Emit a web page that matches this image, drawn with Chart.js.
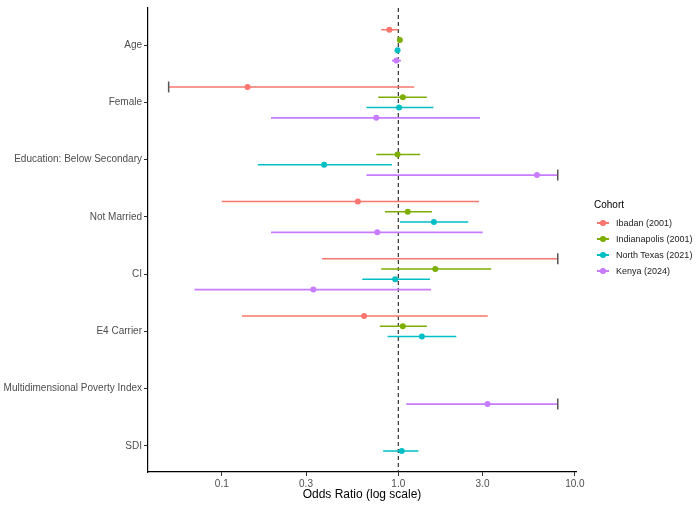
<!DOCTYPE html>
<html>
<head>
<meta charset="utf-8">
<script src="https://cdn.jsdelivr.net/npm/chart.js@4/dist/chart.umd.min.js"></script>
<style>
    html, body { margin: 0; padding: 0; background: #fff; }
    #wrap { position: relative; width: 700px; height: 508px; }
    #legend { position: absolute; left: 0; top: 0; font-family: 'Liberation Sans', Arial, sans-serif; }
    #legend .ttl { position: absolute; left: 594px; top: 199px; font-size: 10px; color: #000; white-space: nowrap; }
    #legend .row { position: absolute; left: 597px; height: 16px; white-space: nowrap; }
    #legend .bar { position: absolute; left: 0; top: 7.2px; width: 12px; height: 1.6px; }
    #legend .dot { position: absolute; left: 3.2px; top: 5.2px; width: 5.6px; height: 5.6px; border-radius: 50%; }
    #legend .lbl { position: absolute; left: 19px; top: 2.5px; font-size: 9px; color: #1a1a1a; }
</style>
</head>
<body>
<div id="wrap">
    <canvas id="forestChart" width="700" height="508"></canvas>
    <div id="legend"></div>
</div>
<script>
// Forest plot data (odds ratios, 95% CI)

const categories = ['Age', 'Female', 'Education: Below Secondary', 'Not Married', 'CI', 'E4 Carrier', 'Multidimensional Poverty Index', 'SDI'];
const cohorts = ['Ibadan (2001)', 'Indianapolis (2001)', 'North Texas (2021)', 'Kenya (2024)'];
const cohortColors = ['#F8766D', '#7CAE00', '#00BFC4', '#C77CFF'];

const ibadanOR = [0.89, 0.14, null, 0.59, null, 0.64, null, null];
const ibadanLo = [0.80, 0.05, null, 0.10, 0.37, 0.13, null, null];
const ibadanHi = [1.00, 1.23, null, 2.86, 8.0, 3.21, null, null];

const indyOR = [1.02, 1.06, 0.99, 1.13, 1.62, 1.06, null, null];
const indyLo = [1.00, 0.77, 0.75, 0.84, 0.80, 0.785, null, null];
const indyHi = [1.04, 1.45, 1.33, 1.55, 3.36, 1.45, null, null];

const texasOR = [0.99, 1.01, 0.38, 1.59, 0.96, 1.36, null, 1.045];
const texasLo = [0.975, 0.66, 0.16, 1.02, 0.625, 0.87, null, 0.82];
const texasHi = [1.005, 1.58, 0.92, 2.49, 1.51, 2.13, null, 1.30];

const kenyaOR = [0.975, 0.75, 6.1, 0.76, 0.33, null, 3.2, null];
const kenyaLo = [0.92, 0.19, 0.66, 0.19, 0.07, null, 1.11, null];
const kenyaHi = [1.035, 2.9, 8.0, 3.01, 1.53, null, 8.0, null];

const xTicks = [0.1, 0.3, 1, 3, 10];
const clipLow = 0.05;
const clipHigh = 8;
const dodge = [-0.27, -0.09, 0.09, 0.27];

const xMin = 0.0382, xMax = 10.15;
const yMin = -0.649, yMax = 7.456;
const FONT = "'Liberation Sans', Arial, sans-serif";

const series = [
    { or: ibadanOR, lo: ibadanLo, hi: ibadanHi },
    { or: indyOR, lo: indyLo, hi: indyHi },
    { or: texasOR, lo: texasLo, hi: texasHi },
    { or: kenyaOR, lo: kenyaLo, hi: kenyaHi }
];

const datasets = [];
const caps = [];

// reference line at OR = 1
datasets.push({
    type: 'line',
    data: [{ x: 1, y: yMin }, { x: 1, y: yMax }],
    borderColor: '#333',
    borderWidth: 1.2,
    borderDash: [4, 3],
    pointRadius: 0,
    order: 4
});

series.forEach((s, k) => {
    const segs = [];
    const pts = [];
    categories.forEach((c, i) => {
        const y = i + dodge[k];
        if (s.lo[i] != null) {
            segs.push({ x: s.lo[i], y: y }, { x: s.hi[i], y: y }, { x: s.hi[i], y: null });
            if (s.lo[i] <= clipLow) caps.push({ x: s.lo[i], y: y });
            if (s.hi[i] >= clipHigh) caps.push({ x: s.hi[i], y: y });
        }
        if (s.or[i] != null) pts.push({ x: s.or[i], y: y });
    });
    datasets.push({
        type: 'line',
        data: segs,
        borderColor: cohortColors[k],
        borderWidth: 1.6,
        pointRadius: 0,
        spanGaps: false,
        order: 3
    });
    datasets.push({
        type: 'scatter',
        data: pts,
        backgroundColor: cohortColors[k],
        borderColor: cohortColors[k],
        borderWidth: 0,
        pointRadius: 3,
        order: 2
    });
});

// truncation markers
datasets.push({
    type: 'scatter',
    data: caps,
    pointStyle: 'line',
    rotation: 90,
    pointRadius: 5.5,
    borderColor: '#555',
    borderWidth: 1.5,
    order: 1
});

new Chart(document.getElementById('forestChart'), {
    type: 'scatter',
    data: { datasets: datasets },
    options: {
        responsive: false,
        animation: false,
        layout: { padding: { left: 0, top: 6, right: 124, bottom: 0 } },
        plugins: {
            legend: { display: false },
            tooltip: { enabled: false }
        },
        scales: {
            x: {
                type: 'logarithmic',
                min: xMin,
                max: xMax,
                afterBuildTicks: (scale) => { scale.ticks = xTicks.map(v => ({ value: v })); },
                afterFit: (scale) => { scale.height = 36; },
                ticks: {
                    callback: (v) => Number(v).toFixed(1),
                    font: { family: FONT, size: 10 },
                    color: '#4D4D4D',
                    padding: 2,
                    maxRotation: 0,
                    autoSkip: false
                },
                grid: { drawOnChartArea: false, drawTicks: true, tickLength: 4, color: '#333' },
                border: { display: true, color: '#000', width: 1.2 },
                title: {
                    display: true,
                    text: 'Odds Ratio (log scale)',
                    font: { family: FONT, size: 12 },
                    color: '#000',
                    padding: { top: 0, bottom: 6 }
                }
            },
            y: {
                type: 'linear',
                reverse: true,
                min: yMin,
                max: yMax,
                afterBuildTicks: (scale) => { scale.ticks = categories.map((c, i) => ({ value: i })); },
                afterFit: (scale) => { scale.width = 148; },
                ticks: {
                    callback: (v) => categories[v],
                    font: { family: FONT, size: 10 },
                    color: '#4D4D4D',
                    padding: 2,
                    autoSkip: false
                },
                grid: { drawOnChartArea: false, drawTicks: true, tickLength: 4, color: '#333' },
                border: { display: true, color: '#000', width: 1.2 }
            }
        }
    }
});

// Legend
const legendEl = document.getElementById('legend');
let html = '<div class="ttl">Cohort</div>';
cohorts.forEach((name, k) => {
    const top = 215 + k * 16;
    html += `<div class="row" style="top:${top}px">
        <span class="bar" style="background:${cohortColors[k]}"></span>
        <span class="dot" style="background:${cohortColors[k]}"></span>
        <span class="lbl">${name}</span>
    </div>`;
});
legendEl.innerHTML = html;
</script>
</body>
</html>
